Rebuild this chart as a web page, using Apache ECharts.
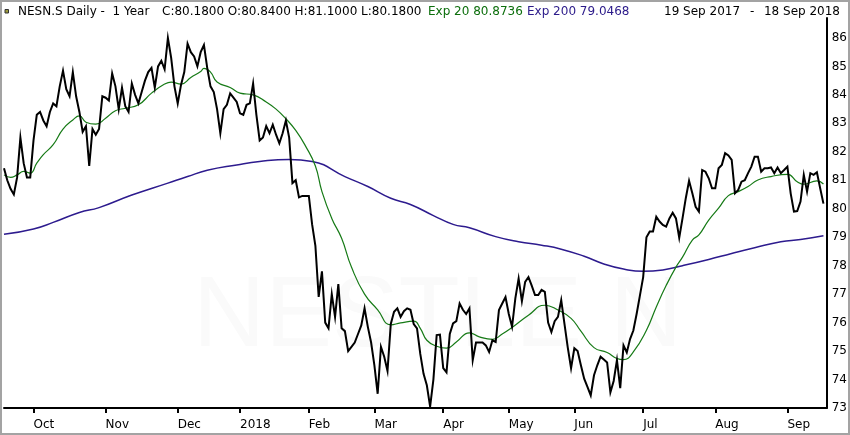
<!DOCTYPE html>
<html><head><meta charset="utf-8">
<script src="https://cdn.jsdelivr.net/npm/echarts@6/dist/echarts.min.js"></script>
<style>html,body{margin:0;padding:0;background:#fff}#c{width:850px;height:435px}</style>
</head><body><div id="c"></div>
<script>
// ---- data ----
const holidays = ['2017-12-25','2017-12-26','2018-01-01','2018-01-02','2018-03-30','2018-04-02','2018-05-01','2018-05-10','2018-05-21','2018-08-01'];
const monthNames = ['Jan','Feb','Mar','Apr','May','Jun','Jul','Aug','Sep','Oct','Nov','Dec'];
const yTicks = [73,74,75,76,77,78,79,80,81,82,83,84,85,86];
const closes = [
81.42,81.0,80.7,80.5,81.1,82.5,81.6,81.1,81.1,82.4,
83.3,83.4,83.1,82.9,83.4,83.7,83.6,84.3,84.85,84.2,
83.95,84.8,83.95,83.4,82.7,82.9,81.5,82.8,82.6,82.8,
83.95,83.9,83.8,84.75,84.3,83.5,84.25,83.6,83.4,84.4,
84.0,83.7,84.1,84.5,84.8,84.95,84.25,85.0,85.2,84.9,
86.0,85.3,84.3,83.7,84.35,84.8,85.8,85.5,85.35,85.0,
85.5,85.75,84.95,84.3,84.1,83.5,82.65,83.5,83.65,84.05,
83.9,83.75,83.35,83.3,83.65,83.7,84.4,83.3,82.4,82.5,
82.9,82.65,82.95,82.6,82.3,82.65,83.1,82.5,80.9,81.0,
80.4,80.45,80.45,80.45,79.45,78.7,76.9,77.8,76.0,75.8,
77.0,76.2,77.35,75.8,75.7,75.0,75.15,75.3,75.6,75.9,
76.5,75.85,75.3,74.5,73.5,75.15,74.8,74.3,75.95,76.38,
76.5,76.2,76.4,76.5,76.45,75.95,75.8,74.9,74.2,73.8,
73.05,74.0,75.56,75.58,74.4,74.25,75.6,75.97,76.05,76.67,
76.45,76.3,76.5,74.68,75.3,75.3,75.3,75.2,74.97,75.38,
75.32,76.44,76.67,76.9,76.3,75.85,76.85,77.55,76.75,77.43,
77.6,77.3,76.97,76.97,77.15,77.08,76.0,75.67,76.05,76.2,
76.79,75.95,75.12,74.4,75.1,75.0,74.5,74.03,73.74,73.44,
74.15,74.5,74.8,74.7,74.6,73.55,73.95,74.68,73.7,75.2,
74.95,75.42,75.72,76.3,76.95,77.6,79.0,79.2,79.2,79.72,
79.55,79.43,79.37,79.66,79.86,79.66,78.98,79.66,80.37,80.98,
80.54,80.07,79.9,81.36,81.3,81.07,80.72,80.72,81.42,81.54,
81.95,81.87,81.72,80.54,80.66,80.95,81.0,81.25,81.48,81.83,
81.83,81.3,81.42,81.42,81.45,81.25,81.45,81.25,81.36,81.48,
80.54,79.9,79.92,80.25,81.19,80.6,81.25,81.19,81.28,80.72,
80.18];
// [trading-day index, value]
const ema20 = [[0,81.19],[2,81.1],[4,81.19],[6,81.31],[8,81.25],[10,81.6],[12,81.9],[15,82.25],[18,82.8],[21,83.12],
[23,83.26],[25,83.04],[28,82.97],[31,83.18],[34,83.44],[37,83.53],[41,83.65],[45,84.06],[49,84.38],[51,84.45],
[54,84.38],[57,84.61],[60,84.82],[61,84.93],[63,84.8],[65,84.45],[69,84.26],[72,84.06],[76,84.0],[80,83.75],
[83,83.5],[86,83.16],[89,82.75],[92,82.2],[95,81.5],[97,80.6],[100,79.66],[103,78.96],[106,77.95],[110,77.0],
[114,76.45],[118,75.92],[121,75.99],[125,76.05],[127,75.8],[129,75.38],[132,75.17],[135,75.1],[138,75.32],[142,75.64],
[145,75.5],[149,75.41],[152,75.6],[155,75.83],[160,76.26],[165,76.61],[169,76.44],[173,76.15],[176,75.7],[180,75.12],
[184,74.95],[187,74.74],[189,74.7],[192,74.97],[196,75.73],[199,76.55],[202,77.3],[205,77.95],[207,78.3],[210,78.9],
[212,79.08],[215,79.6],[218,80.02],[221,80.46],[224,80.6],[227,80.78],[230,81.01],[234,81.13],[239,81.21],[242,80.95],
[244,80.86],[248,80.98],[250,80.87]];
const ema200 = [[0,79.1],[9,79.29],[15,79.52],[23,79.87],[29,80.04],[39,80.48],[50,80.9],[56,81.13],[62,81.35],[71,81.54],
[78,81.66],[87,81.73],[94,81.66],[104,81.13],[111,80.78],[118,80.37],[124,80.15],[131,79.76],[137,79.45],[142,79.33],
[150,79.02],[157,78.84],[164,78.72],[170,78.58],[177,78.33],[183,78.06],[189,77.88],[195,77.8],[201,77.85],[207,78.0],
[215,78.22],[222,78.43],[229,78.63],[237,78.84],[243,78.92],[250,79.05]];

// ---- trading-day calendar ----
function tradingDays(){
  const out=[]; let t=Date.UTC(2017,8,19); const end=Date.UTC(2018,8,18);
  while(t<=end){ const d=new Date(t); const wd=d.getUTCDay(); const s=d.toISOString().slice(0,10);
    if(wd!==0&&wd!==6&&holidays.indexOf(s)<0) out.push(s); t+=86400000; }
  return out;
}
const dates = tradingDays();
const categories = dates.concat(['']);
function isMonthStart(index){
  return index>0 && index<dates.length && dates[index].slice(0,7)!==dates[index-1].slice(0,7);
}
const FONT='"DejaVu Sans", "Liberation Sans", sans-serif';

const chart = echarts.init(document.getElementById('c'), null, {renderer:'canvas'});
chart.setOption({
  animation:false,
  backgroundColor:'#fff',
  grid:{left:4,right:23,top:18,bottom:27,containLabel:false},
  xAxis:{type:'category',data:categories,boundaryGap:false,
    axisLine:{show:true,onZero:false,lineStyle:{color:'#000',width:2}},
    axisTick:{show:true,interval:(i)=>isMonthStart(i),length:5,lineStyle:{color:'#000',width:2}},
    axisLabel:{interval:(i)=>isMonthStart(i),align:'left',margin:11,color:'#000',fontSize:12,fontFamily:FONT,
      formatter:(v)=>{ if(!v) return ''; const m=+v.slice(5,7); return m===1? v.slice(0,4): monthNames[m-1]; }},
    splitLine:{show:false}},
  yAxis:{type:'value',position:'right',min:yTicks[0],max:86.7,interval:1,
    axisLine:{show:true,lineStyle:{color:'#000',width:2}},
    axisTick:{show:false},splitLine:{show:false},
    axisLabel:{color:'#000',fontSize:12,fontFamily:FONT,margin:5,showMaxLabel:false,
      formatter:(v)=> yTicks.indexOf(v)>=0? String(v):''}},
  graphic:[
    {type:'rect',z:100,shape:{x:1,y:1,width:848,height:433},style:{fill:'none',stroke:'#a3a3a3',lineWidth:2}},
    {type:'text',z:0,x:193,y:318,style:{text:'NESTLE N',font:'100px "Liberation Sans", sans-serif',fill:'#fafafa',verticalAlign:'middle'}},
    {type:'rect',shape:{x:5,y:9.5,width:3.5,height:3.5},style:{fill:'#9c9a3c',stroke:'#333',lineWidth:1}},
    {type:'text',x:18,y:12,style:{text:'NESN.S Daily -  1 Year',font:'12px '+FONT,fill:'#000',verticalAlign:'middle'}},
    {type:'text',x:162,y:12,style:{text:'C:80.1800 O:80.8400 H:81.1000 L:80.1800',font:'12px '+FONT,fill:'#000',verticalAlign:'middle'}},
    {type:'text',x:428,y:12,style:{text:'Exp 20 80.8736',font:'12px '+FONT,fill:'#0c6e0c',verticalAlign:'middle'}},
    {type:'text',x:527,y:12,style:{text:'Exp 200 79.0468',font:'12px '+FONT,fill:'#2b1a8a',verticalAlign:'middle'}},
    {type:'text',x:664,y:12,style:{text:'19 Sep 2017',font:'12px '+FONT,fill:'#000',verticalAlign:'middle'}},
    {type:'text',x:750,y:12,style:{text:'-',font:'12px '+FONT,fill:'#000',verticalAlign:'middle'}},
    {type:'text',x:840,y:12,style:{text:'18 Sep 2018',font:'12px '+FONT,fill:'#000',align:'right',verticalAlign:'middle'}}
  ],
  series:[
    {name:'Exp 200',type:'line',data:ema200,smooth:true,symbol:'none',silent:true,z:3,
      lineStyle:{color:'#2d1b8e',width:1.5}},
    {name:'Exp 20',type:'line',data:ema20,smooth:true,symbol:'none',silent:true,z:4,
      lineStyle:{color:'#167a16',width:1.2}},
    {name:'NESN.S',type:'line',data:closes,symbol:'none',silent:true,z:5,
      lineStyle:{color:'#000',width:2,join:'miter'}}
  ]
});
</script></body></html>
